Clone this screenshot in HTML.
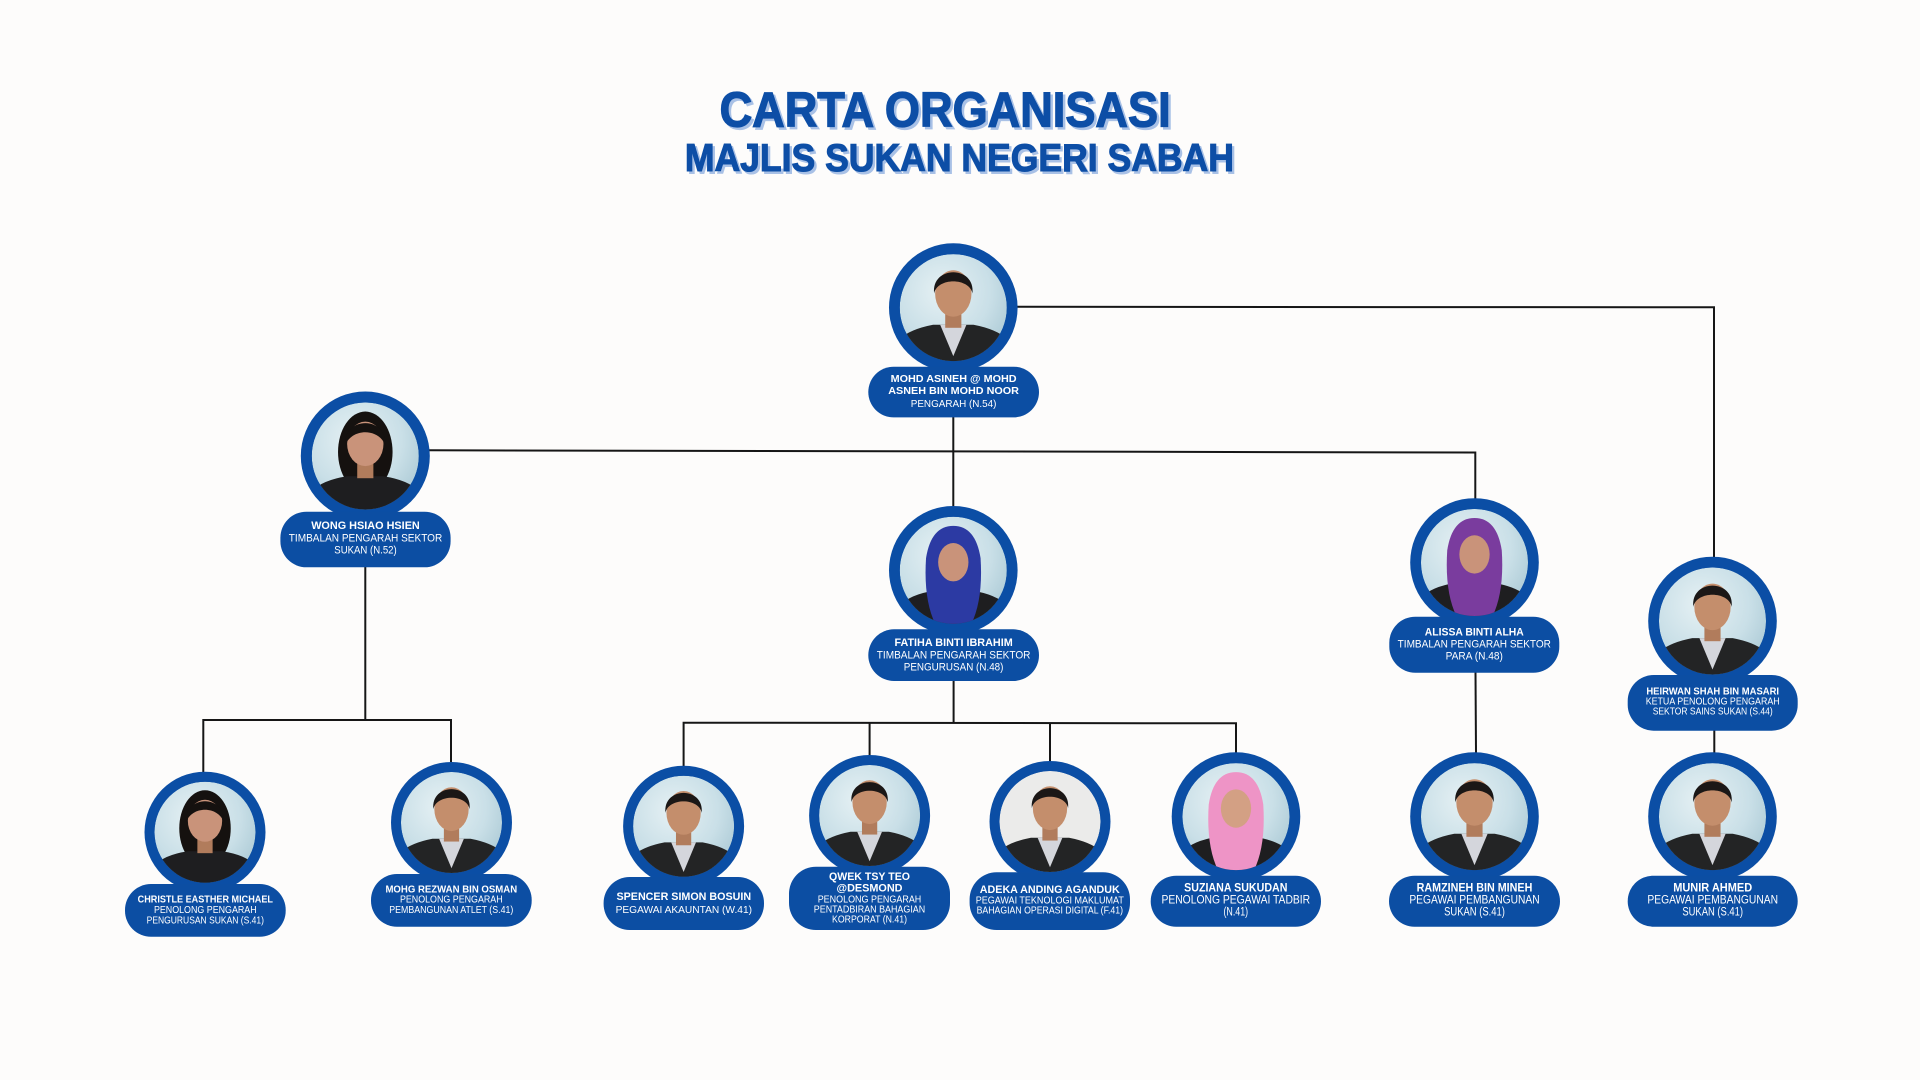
<!DOCTYPE html>
<html>
<head>
<meta charset="utf-8">
<style>
html,body{margin:0;padding:0;background:#fdfcfb;}
body{width:1920px;height:1080px;overflow:hidden;}
svg{display:block;}
.nm{font-family:"Liberation Sans",Arial,sans-serif;font-weight:bold;fill:#ffffff;}
.tt{font-family:"Liberation Sans",Arial,sans-serif;font-weight:normal;fill:#ffffff;}
.ttl{font-family:"Liberation Sans",Arial,sans-serif;font-weight:bold;}
</style>
</head>
<body>
<svg width="1920" height="1080" viewBox="0 0 1920 1080" xmlns="http://www.w3.org/2000/svg" xmlns:xlink="http://www.w3.org/1999/xlink">
<defs>
  <radialGradient id="bg" cx="40%" cy="35%" r="75%">
    <stop offset="0" stop-color="#e6f1f4"/>
    <stop offset="0.6" stop-color="#c9dfe7"/>
    <stop offset="1" stop-color="#a9c8d4"/>
  </radialGradient>
  <clipPath id="clip"><circle cx="0" cy="0" r="53"/></clipPath>

  <g id="man">
    <path d="M-62,62 L-56,34 Q-46,22 -20,17 L20,17 Q46,22 56,34 L62,62 Z" fill="#232425"/>
    <path d="M-13,17 L0,48 L13,17 Z" fill="#d4d6dc"/>
    <rect x="-8" y="0" width="16" height="20" fill="#b17c5c"/>
    <ellipse cx="0" cy="-14" rx="18" ry="23" fill="#c48e6c"/>
    <path d="M-19,-14 C-22,-42 22,-42 19,-14 C16,-30 -16,-30 -19,-14Z" fill="#1b1716"/>
  </g>
  <g id="woman">
    <ellipse cx="0" cy="-4" rx="27" ry="40" fill="#15110f"/>
    <path d="M-62,62 L-54,36 Q-44,24 -18,20 L18,20 Q44,24 54,36 L62,62 Z" fill="#1e1e20"/>
    <rect x="-8" y="2" width="16" height="20" fill="#b17c5c"/>
    <ellipse cx="0" cy="-12" rx="18" ry="22" fill="#c9937a"/>
    <path d="M-20,-10 C-22,-40 22,-40 20,-10 C14,-28 -14,-28 -20,-10Z" fill="#15110f"/>
  </g>
  <g id="hijabBlue">
    <path d="M-62,62 L-54,36 Q-44,24 -18,20 L18,20 Q44,24 54,36 L62,62 Z" fill="#1e1e20"/>
    <path d="M-27,-12 Q-30,35 -14,60 L14,60 Q30,35 27,-12 Q22,-44 0,-44 Q-22,-44 -27,-12Z" fill="#2c3aa3"/>
    <ellipse cx="0" cy="-8" rx="15" ry="19" fill="#c9937a"/>
  </g>
  <g id="hijabPurple">
    <path d="M-62,62 L-54,36 Q-44,24 -18,20 L18,20 Q44,24 54,36 L62,62 Z" fill="#1e1e20"/>
    <path d="M-27,-12 Q-30,35 -14,60 L14,60 Q30,35 27,-12 Q22,-44 0,-44 Q-22,-44 -27,-12Z" fill="#7a3c9e"/>
    <ellipse cx="0" cy="-8" rx="15" ry="19" fill="#c9937a"/>
  </g>
  <g id="hijabPink">
    <path d="M-62,62 L-54,36 Q-44,24 -18,20 L18,20 Q44,24 54,36 L62,62 Z" fill="#1e1e20"/>
    <path d="M-27,-12 Q-30,35 -14,60 L14,60 Q30,35 27,-12 Q22,-44 0,-44 Q-22,-44 -27,-12Z" fill="#ee94c6"/>
    <ellipse cx="0" cy="-8" rx="15" ry="19" fill="#d3a084"/>
  </g>
</defs>

<rect x="0" y="0" width="1920" height="1080" fill="#fdfcfb"/>

<!-- TITLES -->
<g class="ttl">
  <text x="722.1" y="129.2" font-size="49" textLength="451" lengthAdjust="spacingAndGlyphs" fill="#a9c1e6" stroke="#a9c1e6" stroke-width="1.3">CARTA ORGANISASI</text>
  <text x="719.6" y="126.7" font-size="49" textLength="451" lengthAdjust="spacingAndGlyphs" fill="#0d4ea6" stroke="#0d4ea6" stroke-width="1.3">CARTA ORGANISASI</text>
  <text x="687.2" y="173.4" font-size="38.7" textLength="549" lengthAdjust="spacingAndGlyphs" fill="#a9c1e6" stroke="#a9c1e6" stroke-width="1.1">MAJLIS SUKAN NEGERI SABAH</text>
  <text x="684.9" y="171" font-size="38.7" textLength="549" lengthAdjust="spacingAndGlyphs" fill="#0d4ea6" stroke="#0d4ea6" stroke-width="1.1">MAJLIS SUKAN NEGERI SABAH</text>
</g>

<!-- CONNECTORS -->
<g stroke="#161616" stroke-width="2" fill="none">
  <polyline points="1017,306.8 1714,307.3 1714,557"/>
  <line x1="953.3" y1="417" x2="953.3" y2="506"/>
  <polyline points="429,450.3 1475.3,452.5 1475.3,498.5"/>
  <line x1="365.3" y1="567" x2="365.3" y2="720"/>
  <polyline points="203.3,772 203.3,720 451,720 451,762"/>
  <line x1="953.6" y1="681" x2="953.6" y2="723"/>
  <polyline points="683.6,766 683.6,722.7 1236,723.3 1236,752.5"/>
  <line x1="869.6" y1="722.9" x2="869.6" y2="755.5"/>
  <line x1="1050" y1="723" x2="1050" y2="761.5"/>
  <line x1="1475.5" y1="672.5" x2="1476" y2="752.5"/>
  <line x1="1714.3" y1="730.5" x2="1714.3" y2="752.5"/>
</g>

<!-- NODE CIRCLES -->
<g fill="#0b4ea5">
  <circle cx="953.3" cy="307.6" r="64.3"/>
  <circle cx="365.3" cy="456" r="64.5"/>
  <circle cx="953.3" cy="570.3" r="64.3"/>
  <circle cx="1474.5" cy="562.5" r="64.3"/>
  <circle cx="1712.5" cy="621" r="64.3"/>
  <circle cx="205" cy="832.2" r="60.5"/>
  <circle cx="451.5" cy="822.5" r="60.5"/>
  <circle cx="683.6" cy="826.2" r="60.5"/>
  <circle cx="869.6" cy="815.5" r="60.5"/>
  <circle cx="1050" cy="821.5" r="60.5"/>
  <circle cx="1236" cy="816.6" r="64.3"/>
  <circle cx="1474.5" cy="816.6" r="64.3"/>
  <circle cx="1712.5" cy="816.6" r="64.3"/>
</g>

<!-- PHOTOS -->
<g transform="translate(953.3,307.6) scale(1.01)"><g clip-path="url(#clip)"><circle r="53" fill="url(#bg)"/><use href="#man"/></g></g>
<g transform="translate(365.3,456) scale(1.01)"><g clip-path="url(#clip)"><circle r="53" fill="url(#bg)"/><use href="#woman"/></g></g>
<g transform="translate(953.3,570.3) scale(1.01)"><g clip-path="url(#clip)"><circle r="53" fill="url(#bg)"/><use href="#hijabBlue"/></g></g>
<g transform="translate(1474.5,562.5) scale(1.01)"><g clip-path="url(#clip)"><circle r="53" fill="url(#bg)"/><use href="#hijabPurple"/></g></g>
<g transform="translate(1712.5,621) scale(1.01)"><g clip-path="url(#clip)"><circle r="53" fill="url(#bg)"/><use href="#man"/></g></g>
<g transform="translate(205,832.2) scale(0.953)"><g clip-path="url(#clip)"><circle r="53" fill="url(#bg)"/><use href="#woman"/></g></g>
<g transform="translate(451.5,822.5) scale(0.953)"><g clip-path="url(#clip)"><circle r="53" fill="url(#bg)"/><use href="#man"/></g></g>
<g transform="translate(683.6,826.2) scale(0.953)"><g clip-path="url(#clip)"><circle r="53" fill="url(#bg)"/><use href="#man"/></g></g>
<g transform="translate(869.6,815.5) scale(0.953)"><g clip-path="url(#clip)"><circle r="53" fill="url(#bg)"/><use href="#man"/></g></g>
<g transform="translate(1050,821.5) scale(0.953)"><g clip-path="url(#clip)"><circle r="53" fill="#ebebea"/><use href="#man"/></g></g>
<g transform="translate(1236,816.6) scale(1.01)"><g clip-path="url(#clip)"><circle r="53" fill="url(#bg)"/><use href="#hijabPink"/></g></g>
<g transform="translate(1474.5,816.6) scale(1.01)"><g clip-path="url(#clip)"><circle r="53" fill="url(#bg)"/><use href="#man"/></g></g>
<g transform="translate(1712.5,816.6) scale(1.01)"><g clip-path="url(#clip)"><circle r="53" fill="url(#bg)"/><use href="#man"/></g></g>

<!-- PILLS -->
<g fill="#0c4ea3">
  <rect x="868.3" y="366.7" width="170.7" height="50.7" rx="25.3"/>
  <rect x="280.4" y="511.7" width="170.2" height="55.6" rx="26"/>
  <rect x="868.3" y="629.3" width="170.7" height="51.7" rx="25.8"/>
  <rect x="1389.3" y="616.7" width="170" height="56" rx="26"/>
  <rect x="1627.7" y="675" width="170" height="55.7" rx="26"/>
  <rect x="125" y="884" width="160.7" height="52.7" rx="26"/>
  <rect x="371" y="874" width="160.7" height="52.7" rx="26"/>
  <rect x="603.6" y="877" width="160.4" height="53" rx="26"/>
  <rect x="789" y="866.7" width="161" height="63.3" rx="27"/>
  <rect x="969.6" y="872.3" width="160.4" height="57.7" rx="27"/>
  <rect x="1150.7" y="875.7" width="170.3" height="51" rx="25.5"/>
  <rect x="1389" y="875.7" width="171" height="51" rx="25.5"/>
  <rect x="1627.7" y="875.7" width="170" height="51" rx="25.5"/>
</g>

<!-- PILL TEXT -->
<g text-anchor="middle">
  <!-- Top -->
  <text class="nm" x="953.6" y="381.8" font-size="10.5" textLength="126" lengthAdjust="spacingAndGlyphs">MOHD ASINEH @ MOHD</text>
  <text class="nm" x="953.6" y="394" font-size="10.5" textLength="130.7" lengthAdjust="spacingAndGlyphs">ASNEH BIN MOHD NOOR</text>
  <text class="tt" x="953.6" y="407" font-size="10.5" textLength="85.7" lengthAdjust="spacingAndGlyphs">PENGARAH (N.54)</text>

  <!-- Wong -->
  <text class="nm" x="365.5" y="529" font-size="11" textLength="108.6" lengthAdjust="spacingAndGlyphs">WONG HSIAO HSIEN</text>
  <text class="tt" x="365.5" y="541.3" font-size="11" textLength="153.5" lengthAdjust="spacingAndGlyphs">TIMBALAN PENGARAH SEKTOR</text>
  <text class="tt" x="365.5" y="553.3" font-size="11" textLength="62.4" lengthAdjust="spacingAndGlyphs">SUKAN (N.52)</text>

  <!-- Fatiha -->
  <text class="nm" x="953.6" y="646" font-size="11" textLength="118.3" lengthAdjust="spacingAndGlyphs">FATIHA BINTI IBRAHIM</text>
  <text class="tt" x="953.6" y="658.3" font-size="11" textLength="153.7" lengthAdjust="spacingAndGlyphs">TIMBALAN PENGARAH SEKTOR</text>
  <text class="tt" x="953.6" y="670.5" font-size="11" textLength="99.7" lengthAdjust="spacingAndGlyphs">PENGURUSAN (N.48)</text>

  <!-- Alissa -->
  <text class="nm" x="1474.3" y="635.3" font-size="11" textLength="99" lengthAdjust="spacingAndGlyphs">ALISSA BINTI ALHA</text>
  <text class="tt" x="1474.3" y="647.3" font-size="11" textLength="153.3" lengthAdjust="spacingAndGlyphs">TIMBALAN PENGARAH SEKTOR</text>
  <text class="tt" x="1474.3" y="659.3" font-size="11" textLength="57.3" lengthAdjust="spacingAndGlyphs">PARA (N.48)</text>

  <!-- Heirwan -->
  <text class="nm" x="1712.7" y="694.3" font-size="10" textLength="132.7" lengthAdjust="spacingAndGlyphs">HEIRWAN SHAH BIN MASARI</text>
  <text class="tt" x="1712.7" y="704.3" font-size="10" textLength="134" lengthAdjust="spacingAndGlyphs">KETUA PENOLONG PENGARAH</text>
  <text class="tt" x="1712.7" y="714.3" font-size="10" textLength="120" lengthAdjust="spacingAndGlyphs">SEKTOR SAINS SUKAN (S.44)</text>

  <!-- Christle -->
  <text class="nm" x="205.3" y="902.6" font-size="10" textLength="135.3" lengthAdjust="spacingAndGlyphs">CHRISTLE EASTHER MICHAEL</text>
  <text class="tt" x="205.3" y="913" font-size="10" textLength="102.7" lengthAdjust="spacingAndGlyphs">PENOLONG PENGARAH</text>
  <text class="tt" x="205.3" y="923.3" font-size="10" textLength="117.3" lengthAdjust="spacingAndGlyphs">PENGURUSAN SUKAN (S.41)</text>

  <!-- Mohg -->
  <text class="nm" x="451.3" y="892.3" font-size="10" textLength="131.7" lengthAdjust="spacingAndGlyphs">MOHG REZWAN BIN OSMAN</text>
  <text class="tt" x="451.3" y="902.6" font-size="10" textLength="102.7" lengthAdjust="spacingAndGlyphs">PENOLONG PENGARAH</text>
  <text class="tt" x="451.3" y="913" font-size="10" textLength="124" lengthAdjust="spacingAndGlyphs">PEMBANGUNAN ATLET (S.41)</text>

  <!-- Spencer -->
  <text class="nm" x="683.8" y="899.8" font-size="11" textLength="134.6" lengthAdjust="spacingAndGlyphs">SPENCER SIMON BOSUIN</text>
  <text class="tt" x="683.8" y="912.8" font-size="10.5" textLength="136.4" lengthAdjust="spacingAndGlyphs">PEGAWAI AKAUNTAN (W.41)</text>

  <!-- Qwek -->
  <text class="nm" x="869.5" y="879.8" font-size="11" textLength="81" lengthAdjust="spacingAndGlyphs">QWEK TSY TEO</text>
  <text class="nm" x="869.5" y="891.5" font-size="11" textLength="66" lengthAdjust="spacingAndGlyphs">@DESMOND</text>
  <text class="tt" x="869.5" y="902.6" font-size="10" textLength="103.6" lengthAdjust="spacingAndGlyphs">PENOLONG PENGARAH</text>
  <text class="tt" x="869.5" y="912.6" font-size="10" textLength="111.4" lengthAdjust="spacingAndGlyphs">PENTADBIRAN BAHAGIAN</text>
  <text class="tt" x="869.5" y="922.6" font-size="10" textLength="75" lengthAdjust="spacingAndGlyphs">KORPORAT (N.41)</text>

  <!-- Adeka -->
  <text class="nm" x="1049.8" y="892.8" font-size="11" textLength="140" lengthAdjust="spacingAndGlyphs">ADEKA ANDING AGANDUK</text>
  <text class="tt" x="1049.8" y="903.6" font-size="10" textLength="148.2" lengthAdjust="spacingAndGlyphs">PEGAWAI TEKNOLOGI MAKLUMAT</text>
  <text class="tt" x="1049.8" y="913.6" font-size="10" textLength="146.4" lengthAdjust="spacingAndGlyphs">BAHAGIAN OPERASI DIGITAL (F.41)</text>

  <!-- Suziana -->
  <text class="nm" x="1235.8" y="891.3" font-size="11.5" textLength="103.3" lengthAdjust="spacingAndGlyphs">SUZIANA SUKUDAN</text>
  <text class="tt" x="1235.8" y="903.3" font-size="11.5" textLength="148.7" lengthAdjust="spacingAndGlyphs">PENOLONG PEGAWAI TADBIR</text>
  <text class="tt" x="1235.8" y="915.3" font-size="11.5" textLength="24.7" lengthAdjust="spacingAndGlyphs">(N.41)</text>

  <!-- Ramzineh -->
  <text class="nm" x="1474.5" y="891.3" font-size="11.5" textLength="115.7" lengthAdjust="spacingAndGlyphs">RAMZINEH BIN MINEH</text>
  <text class="tt" x="1474.5" y="903.3" font-size="11.5" textLength="130.3" lengthAdjust="spacingAndGlyphs">PEGAWAI PEMBANGUNAN</text>
  <text class="tt" x="1474.5" y="915.3" font-size="11.5" textLength="60.7" lengthAdjust="spacingAndGlyphs">SUKAN (S.41)</text>

  <!-- Munir -->
  <text class="nm" x="1712.7" y="891.3" font-size="11.5" textLength="79" lengthAdjust="spacingAndGlyphs">MUNIR AHMED</text>
  <text class="tt" x="1712.7" y="903.3" font-size="11.5" textLength="130.7" lengthAdjust="spacingAndGlyphs">PEGAWAI PEMBANGUNAN</text>
  <text class="tt" x="1712.7" y="915.3" font-size="11.5" textLength="60.7" lengthAdjust="spacingAndGlyphs">SUKAN (S.41)</text>
</g>
</svg>
</body>
</html>
